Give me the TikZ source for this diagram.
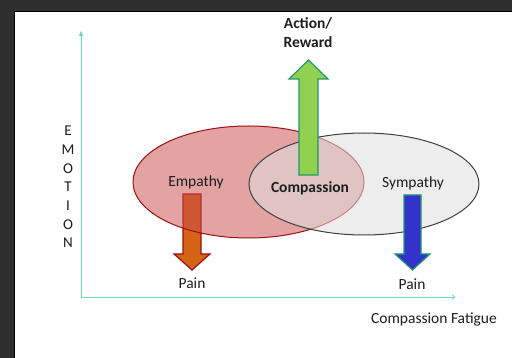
\documentclass[tikz,border=0pt]{standalone}
\usepackage{fontspec}
\setmainfont{Carlito}
\usetikzlibrary{arrows.meta}

\definecolor{axisgreen}{HTML}{66DDBB}
\definecolor{empred}{HTML}{C8504D}
\definecolor{empline}{HTML}{A01010}
\definecolor{arrgreen}{HTML}{92D050}
\definecolor{arrline}{HTML}{1E9A6E}
\definecolor{painorange}{HTML}{D46217}
\definecolor{painblue}{HTML}{3333CC}
\definecolor{txt}{HTML}{1E1E1E}

\tikzset{
  lbl/.style={text=txt,font=\fontsize{15.5}{18}\selectfont,inner sep=0pt},
  axis/.style={axisgreen,line width=0.8pt},
  blockarrow/.style={line width=1.2pt,line join=miter}
}

\begin{document}
\begin{tikzpicture}[x=1pt,y=-1pt]
 \useasboundingbox (0,0) rectangle (512,358);
 % dark frame and white sheet
 \fill[black!82](0,0) rectangle (512,358);
 \fill[white,draw=black](14,11) rectangle (513,359);
 % axes
 \coordinate (origin) at (81,297);
 \coordinate (ytop) at (81,31);
 \coordinate (xend) at (455,297);
 \draw[axis,-{Triangle[length=5pt,width=4pt]}](origin)--(ytop);
 \draw[axis,-{To[length=3pt,width=5pt]}](origin)--(xend);
 % pain arrow under empathy
 \draw[blockarrow,draw=empline,fill=painorange](183,194)--(201,194)--(201,254)--(210,254)--(192,270)--(174,254)--(183,254)--cycle;
 % the two circles
 \draw[line width=1pt,draw=empline,fill=empred,fill opacity=0.52](248.5,182) ellipse (115.5 and 56);
 \draw[line width=1pt,draw=black!75,fill=black!12,fill opacity=0.55](364,184) ellipse (115 and 51);
 % action arrow and sympathy pain arrow
 \draw[blockarrow,draw=arrline,fill=arrgreen](299,175)--(299,79)--(289,79)--(308.5,60)--(328,79)--(318,79)--(318,175)--cycle;
 \draw[blockarrow,draw=arrline,fill=painblue](404,195)--(421,195)--(421,254)--(430,254)--(412.5,270)--(395,254)--(404,254)--cycle;
 % labels
 \node[lbl] (empathy) at (196,182) {Empathy};
 \node[lbl,font=\fontsize{15.5}{18}\selectfont\bfseries] (compassion) at (310,188) {Compassion};
 \node[lbl] (sympathy) at (413,183) {Sympathy};
 \node[lbl] (painl) at (192,283) {Pain};
 \node[lbl] (painr) at (412,284) {Pain};
 \node[lbl] (fatigue) at (434,319) {Compassion Fatigue};
 \node[lbl,font=\fontsize{15.5}{19}\selectfont\bfseries,align=center] (action) at (308,33) {Action/\\Reward};
 \node[lbl,font=\fontsize{15}{18.7}\selectfont,align=center] (emotion) at (68,187) {E\\M\\O\\T\\I\\O\\N};
\end{tikzpicture}
\end{document}
